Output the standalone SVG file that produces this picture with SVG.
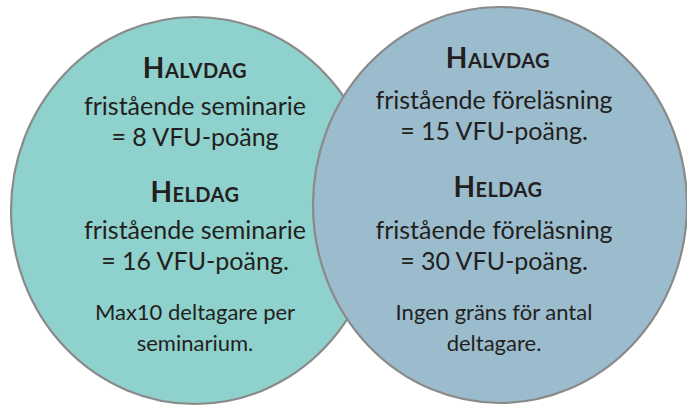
<svg xmlns="http://www.w3.org/2000/svg" width="687" height="406" viewBox="0 0 687 406">
<style>
.bub{stroke:#8a8a8a;stroke-width:2.2}
text{font-family:Lato,"Open Sans","DejaVu Sans",sans-serif;fill:#231f20;text-anchor:middle}
.t{font-weight:bold;font-size:28px;letter-spacing:0.5px}
.t .sc{font-size:20px}
.m{font-size:25px}
.s{font-size:22px}
</style>
<g id="left">
<ellipse class="bub" cx="195" cy="210.5" rx="184" ry="193.5" fill="#8fd1cc"/>
</g>
<g id="right">
<ellipse class="bub" cx="500" cy="205" rx="187" ry="198" fill="#9bbccd"/>
</g>
<g id="left-text">
<text class="t" x="195" y="78">H<tspan class="sc">ALVDAG</tspan></text>
<text class="m" x="195" y="115">fristående seminarie</text>
<text class="m" x="195" y="146">= 8 VFU-poäng</text>
<text class="t" x="195" y="202">H<tspan class="sc">ELDAG</tspan></text>
<text class="m" x="195" y="239">fristående seminarie</text>
<text class="m" x="195" y="270">= 16 VFU-poäng.</text>
<text class="s" x="195" y="320">Max10 deltagare per</text>
<text class="s" x="195" y="351">seminarium.</text>
</g>
<g id="right-text">
<text class="t" x="498" y="68">H<tspan class="sc">ALVDAG</tspan></text>
<text class="m" x="494" y="109">fristående föreläsning</text>
<text class="m" x="494" y="140">= 15 VFU-poäng.</text>
<text class="t" x="498" y="197">H<tspan class="sc">ELDAG</tspan></text>
<text class="m" x="494" y="239">fristående föreläsning</text>
<text class="m" x="494" y="270">= 30 VFU-poäng.</text>
<text class="s" x="494" y="320">Ingen gräns för antal</text>
<text class="s" x="494" y="351">deltagare.</text>
</g>
</svg>
